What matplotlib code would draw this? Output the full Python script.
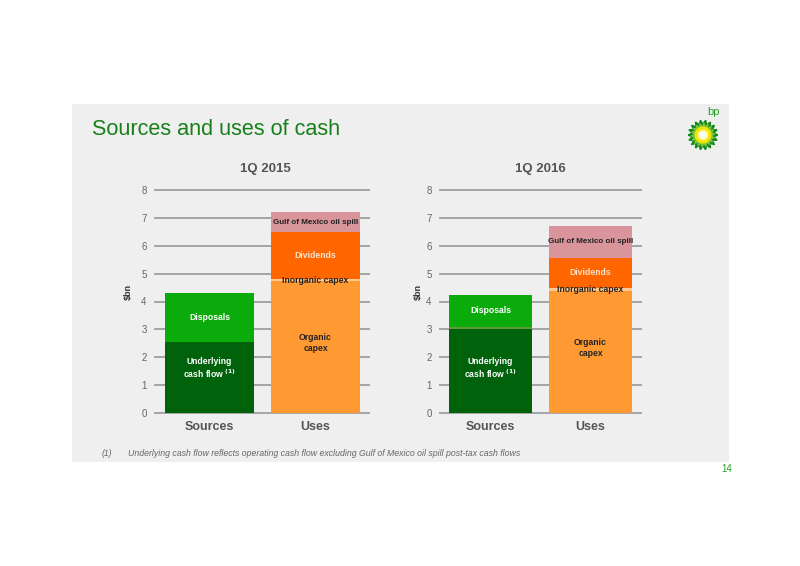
import numpy as np
import matplotlib
matplotlib.use("Agg")
import matplotlib.pyplot as plt
from matplotlib.patches import Rectangle, Polygon, Circle

plt.rcParams['font.family'] = ['Liberation Sans', 'DejaVu Sans']

# values in $bn
periods = ["1Q 2015", "1Q 2016"]
bar_labels = ["Sources", "Uses"]
underlying = [2.56, 3.00]
other_sources = [0.0, 0.08]
disposals = [1.75, 1.17]
organic_capex = [4.75, 4.39]
inorganic_capex = [0.04, 0.10]
dividends = [1.70, 1.07]
gulf_spill = [0.72, 1.15]

W, H = 800, 566
fig = plt.figure(figsize=(8, 5.66), dpi=100, facecolor="white")


def fx(px):
    return px / W


def fy(py):
    return 1 - py / H


# grey slide panel
fig.patches.append(Rectangle((fx(72), fy(462)), fx(729) - fx(72), fy(104) - fy(462),
                             transform=fig.transFigure, facecolor="#efefef",
                             edgecolor="none", zorder=-10))

fig.text(fx(92), fy(129), "Sources and uses of cash", color="#17801a",
         fontsize=15.6, va="center", ha="left")

grey = "#555555"
dark_txt = "#222222"

# left/right chart placement
layouts = [
    dict(x0=155, x1=369, width=0.84, xlim=(-0.514, 1.505), ylab_x=128, title_x=265),
    dict(x0=440, x1=641, width=0.83, xlim=(-0.505, 1.505), ylab_x=418, title_x=540),
]

for i, lay in enumerate(layouts):
    ax = fig.add_axes([fx(lay["x0"]), fy(413), fx(lay["x1"]) - fx(lay["x0"]), fy(190) - fy(413)])
    ax.set_facecolor("none")
    ax.set_xlim(*lay["xlim"])
    ax.set_ylim(0, 8)
    ax.set_yticks(range(0, 9))
    ax.yaxis.grid(True, color="#a4a4a4", linewidth=1.4)
    for gl in ax.get_ygridlines():
        gl.set_clip_on(False)
    ax.set_axisbelow(True)
    for s in ax.spines.values():
        s.set_visible(False)
    ax.tick_params(axis="y", length=0, labelsize=7, labelcolor="#666666", pad=6)
    ax.tick_params(axis="x", length=0, labelsize=9, labelcolor=grey, pad=6)
    ax.set_xticks([0, 1])
    ax.set_xticklabels(bar_labels, fontweight="bold")
    w = lay["width"]

    # sources
    b = 0
    ax.bar(0, underlying[i], w, bottom=b, color="#00620b")
    ax.text(0, 1.6, "Underlying\ncash flow $^{\\mathbf{(1)}}$", color="white",
            ha="center", va="center", fontsize=6.2, fontweight="bold", linespacing=1.15)
    b += underlying[i]
    if other_sources[i] > 0:
        ax.bar(0, other_sources[i], w, bottom=b, color="#5f9a3c")
        b += other_sources[i]
    ax.bar(0, disposals[i], w, bottom=b, color="#0aab0a")
    ax.text(0, b + disposals[i] / 2, "Disposals", color="white",
            ha="center", va="center", fontsize=6.2, fontweight="bold")

    # uses
    b = 0
    ax.bar(1, organic_capex[i], w, bottom=b, color="#ff9a33")
    ax.text(1, b + organic_capex[i] / 2 + 0.15, "Organic\ncapex", color=dark_txt,
            ha="center", va="center", fontsize=6.2, fontweight="bold", linespacing=1.3)
    b += organic_capex[i]
    ax.bar(1, inorganic_capex[i], w, bottom=b, color="#ffc890")
    ax.text(1, b + inorganic_capex[i] / 2, "Inorganic capex", color=dark_txt,
            ha="center", va="center", fontsize=6.2, fontweight="bold")
    b += inorganic_capex[i]
    ax.bar(1, dividends[i], w, bottom=b, color="#ff6600")
    ax.text(1, b + dividends[i] / 2, "Dividends", color="#ffe4d0",
            ha="center", va="center", fontsize=6.2, fontweight="bold")
    b += dividends[i]
    ax.bar(1, gulf_spill[i], w, bottom=b, color="#d9959b")
    ax.text(1, b + gulf_spill[i] / 2, "Gulf of Mexico oil spill", color=dark_txt,
            ha="center", va="center", fontsize=5.8, fontweight="bold")

    fig.text(fx(lay["ylab_x"]), fy(292), "$bn", rotation=90, color="#333333",
             fontsize=6.5, fontweight="bold", ha="center", va="center")
    fig.text(fx(lay["title_x"]), fy(169), periods[i], color=grey,
             fontsize=9.5, fontweight="bold", ha="center", va="center")

# footnote and page number
fig.text(fx(102), fy(453), "(1)", color="#666666", fontsize=6.2, style="italic", va="center")
fig.text(fx(128), fy(453), "Underlying cash flow reflects operating cash flow excluding Gulf of Mexico oil spill post-tax cash flows",
         color="#666666", fontsize=6.3, style="italic", va="center")
fig.text(fx(727), fy(469), "14", color="#2a9a2a", fontsize=7, ha="center", va="center")

# bp helios logo (rough)
lax = fig.add_axes([fx(688), fy(150), fx(30), fy(120) - fy(150)])
lax.set_xlim(-1, 1)
lax.set_ylim(-1, 1)
lax.set_aspect("equal")
lax.axis("off")
n = 18
ang = np.linspace(0, 2 * np.pi, 2 * n, endpoint=False)
r_out = np.where(np.arange(2 * n) % 2 == 0, 1.0, 0.72)
lax.add_patch(Polygon(np.c_[r_out * np.cos(ang), r_out * np.sin(ang)], color="#0f8a1a"))
ang2 = ang + np.pi / (2 * n)
r_mid = np.where(np.arange(2 * n) % 2 == 0, 0.78, 0.55)
lax.add_patch(Polygon(np.c_[r_mid * np.cos(ang2), r_mid * np.sin(ang2)], color="#7cc242"))
lax.add_patch(Circle((0, 0), 0.52, color="#f4e400"))
lax.add_patch(Circle((0, 0), 0.3, color="#fffbb0"))
lax.add_patch(Circle((0, 0), 0.15, color="white"))
fig.text(fx(714), fy(112), "bp", color="#2a9a2a", fontsize=8, ha="center", va="center")

fig.savefig("out.png", dpi=100, facecolor="white")
